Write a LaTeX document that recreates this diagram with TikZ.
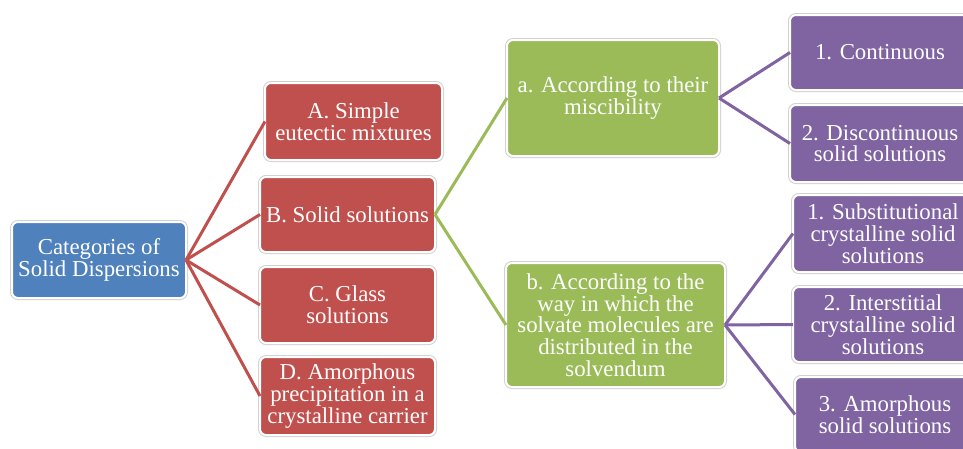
\documentclass[tikz,border=0pt]{standalone}
\usepackage{fontspec}
\setmainfont{Liberation Serif}
\definecolor{cblue}{HTML}{4F81BD}
\definecolor{cred}{HTML}{C0504D}
\definecolor{cgreen}{HTML}{9BBB59}
\definecolor{cpurple}{HTML}{8064A2}
\tikzset{
  box/.style={rectangle, rounded corners=6pt, draw=white, line width=2pt,
    preaction={draw=black!18, line width=4pt},
    text=white, align=center, inner sep=0pt, outer sep=0pt,
    font=\fontsize{22.8}{21.7}\selectfont},
  redline/.style={draw=cred, line width=3pt},
  greenline/.style={draw=cgreen, line width=3pt},
  purpleline/.style={draw=cpurple, line width=3pt}
}
\begin{document}
\begin{tikzpicture}[x=1pt,y=-1pt]
\useasboundingbox (0,0) rectangle (963,448);
\clip (0,0) rectangle (963,448);
\fill[white] (0,0) rectangle (963,448);
% nodes
\node[box, fill=cblue, minimum width=174pt, minimum height=76pt] (root) at (99,260) {Categories of\\Solid Dispersions};
\node[box, fill=cred, minimum width=177pt, minimum height=77pt] (A) at (353.5,121.5) {A. Simple\\eutectic mixtures};
\node[box, fill=cred, minimum width=175pt, minimum height=75pt] (B) at (347.5,214.5) {B. Solid solutions};
\node[box, fill=cred, minimum width=175pt, minimum height=76pt] (C) at (347.5,305) {C. Glass\\solutions};
\node[box, fill=cred, minimum width=175pt, minimum height=78pt] (D) at (347.5,396) {D. Amorphous\\precipitation in a\\crystalline carrier};
\node[box, fill=cgreen, minimum width=212pt, minimum height=116pt] (a) at (613,98) {a. According to their\\miscibility};
\node[box, fill=cgreen, minimum width=219pt, minimum height=124pt] (b) at (615.5,325) {b. According to the\\way in which the\\solvate molecules are\\distributed in the\\solvendum};
\node[box, fill=cpurple, minimum width=180pt, minimum height=75pt] (p1) at (880,52.5) {1. Continuous};
\node[box, fill=cpurple, minimum width=180pt, minimum height=77pt] (p2) at (880,143.5) {2. Discontinuous\\solid solutions};
\node[box, fill=cpurple, minimum width=180pt, minimum height=77pt] (p3) at (883,233.5) {1. Substitutional\\crystalline solid\\solutions};
\node[box, fill=cpurple, minimum width=180pt, minimum height=75pt] (p4) at (883,324.5) {2. Interstitial\\crystalline solid\\solutions};
\node[box, fill=cpurple, minimum width=180pt, minimum height=75pt] (p5) at (885,414.5) {3. Amorphous\\solid solutions};
% connectors
\draw[redline] (root.east) -- (A.west);
\draw[redline] (root.east) -- (B.west);
\draw[redline] (root.east) -- (C.west);
\draw[redline] (root.east) -- (D.west);
\draw[greenline] (B.east) -- (a.west);
\draw[greenline] (B.east) -- (b.west);
\draw[purpleline] (a.east) -- (p1.west);
\draw[purpleline] (a.east) -- (p2.west);
\draw[purpleline] (b.east) -- (p3.west);
\draw[purpleline] (b.east) -- (p4.west);
\draw[purpleline] (b.east) -- (p5.west);
\end{tikzpicture}
\end{document}
